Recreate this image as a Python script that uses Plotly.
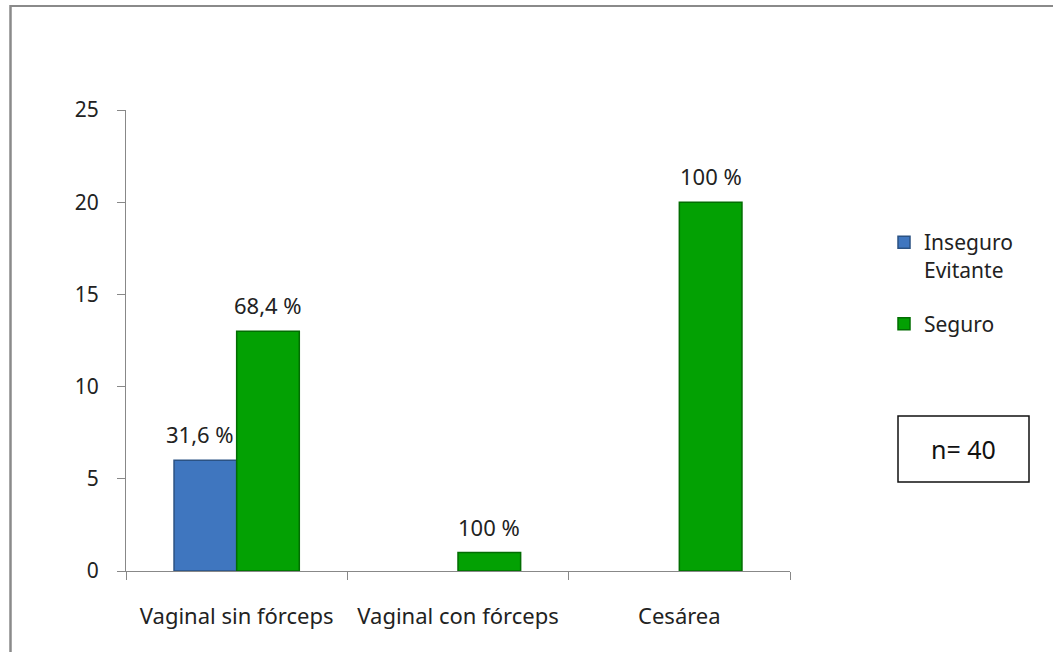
import plotly.graph_objects as go

categories = ["Vaginal sin fórceps", "Vaginal con fórceps", "Cesárea"]
inseguro_vals = [6, None, None]
seguro_vals = [13, 1, 20]
inseguro_labels = ["31,6 %", "", ""]
seguro_labels = ["68,4 %", "100 %", "100 %"]
y_ticks = [0, 5, 10, 15, 20, 25]

FONT = "Noto Sans, Open Sans, sans-serif"
W, H = 1053, 652
L, R, T, B = 126, 790, 110, 571  # pixel coords of plot area

def px(x):
    return (x - L) / (R - L)

def py(y):
    return (B - y) / (B - T)

BARGAP = 0.434
cat_w = (R - L) / len(categories)
half_bar = cat_w * (1 - BARGAP) / 4

fig = go.Figure()
fig.add_trace(go.Bar(
    x=categories, y=inseguro_vals, name="Inseguro<br>Evitante",
    legendgroup="a",
    marker=dict(color="#3f76bf", line=dict(color="#2b5283", width=1.5)),
))
fig.add_trace(go.Bar(
    x=categories, y=seguro_vals, name="Seguro",
    legendgroup="b",
    marker=dict(color="#03a103", line=dict(color="#026d02", width=1.5)),
))

for vals, labels, sign in [(inseguro_vals, inseguro_labels, -1), (seguro_vals, seguro_labels, 1)]:
    for c, v, t in zip(categories, vals, labels):
        if v is None or not t:
            continue
        fig.add_annotation(x=c, y=v, xref="x", yref="y", text=t, showarrow=False,
                           xshift=sign * half_bar - (5 if sign < 0 else 0), yshift=26,
                           yanchor="middle", xanchor="center",
                           font=dict(family=FONT, size=22, color="#222"))

fig.update_layout(
    width=W, height=H,
    margin=dict(l=L, r=W - R, t=T, b=H - B),
    paper_bgcolor="white", plot_bgcolor="white",
    barmode="group", bargap=BARGAP, bargroupgap=0,
    font=dict(family=FONT, size=21, color="#222"),
    showlegend=True,
    legend=dict(x=px(884), y=py(222), xanchor="left", yanchor="top",
                font=dict(family=FONT, size=21, color="#222"),
                traceorder="grouped", tracegroupgap=24, itemwidth=30,
                valign="top"),
    xaxis=dict(showline=True, linecolor="#888", linewidth=1.2,
               ticks="outside", ticklen=8, tickcolor="#888",
               tickson="boundaries", showgrid=False,
               tickfont=dict(family=FONT, size=22, color="#222"),
               ticklabelstandoff=25),
    yaxis=dict(range=[0, 25], tickvals=y_ticks, showline=True, linecolor="#888",
               linewidth=1.2, ticks="outside", ticklen=8, tickcolor="#888",
               showgrid=False, zeroline=False,
               tickfont=dict(family=FONT, size=21, color="#222"),
               ticklabelstandoff=14),
)

# outer frame (top and left edges only visible)
fig.add_shape(type="line", xref="paper", yref="paper",
              x0=px(10), x1=px(1060), y0=py(6), y1=py(6),
              line=dict(color="#8a8a8a", width=2))
fig.add_shape(type="line", xref="paper", yref="paper",
              x0=px(10.5), x1=px(10.5), y0=py(5), y1=py(660),
              line=dict(color="#8a8a8a", width=2.5))
# n box
fig.add_shape(type="rect", xref="paper", yref="paper",
              x0=px(898), x1=px(1029), y0=py(482), y1=py(416),
              line=dict(color="#111", width=1.5), fillcolor="white")
fig.add_annotation(x=px(963.5), y=py(449), xref="paper", yref="paper",
                   text="n= 40", showarrow=False, xanchor="center", yanchor="middle",
                   font=dict(family=FONT, size=25, color="#111"))

fig.write_html("out.html", config={"displayModeBar": False},
               post_script="document.body.style.margin='0';document.body.style.overflow='hidden';")
